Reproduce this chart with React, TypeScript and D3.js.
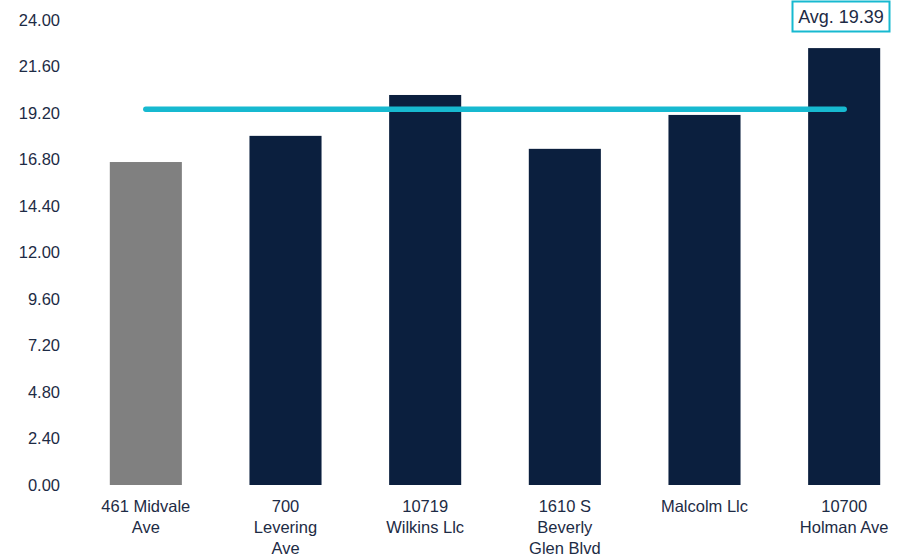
import React from "react";
import * as d3 from "d3";

const categories = ["461 Midvale Ave", "700 Levering Ave", "10719 Wilkins Llc", "1610 S Beverly Glen Blvd", "Malcolm Llc", "10700 Holman Ave"];
const labelLines = [["461 Midvale", "Ave"], ["700", "Levering", "Ave"], ["10719", "Wilkins Llc"], ["1610 S", "Beverly", "Glen Blvd"], ["Malcolm Llc"], ["10700", "Holman Ave"]];
const values = [16.67, 18.02, 20.13, 17.35, 19.1, 22.55];
const highlight = [true, false, false, false, false, false];
const yTicks = [0, 2.4, 4.8, 7.2, 9.6, 12, 14.4, 16.8, 19.2, 21.6, 24];
const average = 19.39;

const W = 913;
const H = 559;
const FONT = "'Liberation Sans', Arial, Helvetica, sans-serif";
const TEXT = "#1d2b45";

export default function App() {
  const x = d3.scaleBand<string>().domain(categories).range([76, 914]).paddingInner(0.484).paddingOuter(0.242);
  const y = d3.scaleLinear().domain([0, 24]).range([485, 20]);
  const bw = x.bandwidth();
  const cx = (c: string) => (x(c) as number) + bw / 2;
  const first = categories[0];
  const last = categories[categories.length - 1];
  return (
    <svg width={W} height={H} style={{ position: "absolute", left: 0, top: 0, fontFamily: FONT }}>
      <rect width={W} height={H} fill="#fff" />
      {yTicks.map((t) => (
        <text key={t} x={60} y={y(t)} dy="0.35em" textAnchor="end" fontSize={16.5} fill={TEXT}>
          {t.toFixed(2)}
        </text>
      ))}
      {categories.map((c, i) => (
        <rect key={c} x={x(c)} y={y(values[i])} width={bw} height={y(0) - y(values[i])} fill={highlight[i] ? "#808080" : "#0b1f3e"} />
      ))}
      <line x1={cx(first)} x2={cx(last)} y1={y(average)} y2={y(average)} stroke="#17b9d0" strokeWidth={5.5} strokeLinecap="round" />
      {categories.map((c, i) => (
        <text key={c} textAnchor="middle" fontSize={16.5} fill={TEXT}>
          {labelLines[i].map((l, j) => (
            <tspan key={j} x={cx(c)} y={512 + j * 21}>
              {l}
            </tspan>
          ))}
        </text>
      ))}
      <rect x={792.5} y={1.5} width={97} height={30} fill="#fff" stroke="#17b9d0" strokeWidth={2} />
      <text x={841} y={17} dy="0.35em" textAnchor="middle" fontSize={18} fill={TEXT}>
        {`Avg. ${average.toFixed(2)}`}
      </text>
    </svg>
  );
}
